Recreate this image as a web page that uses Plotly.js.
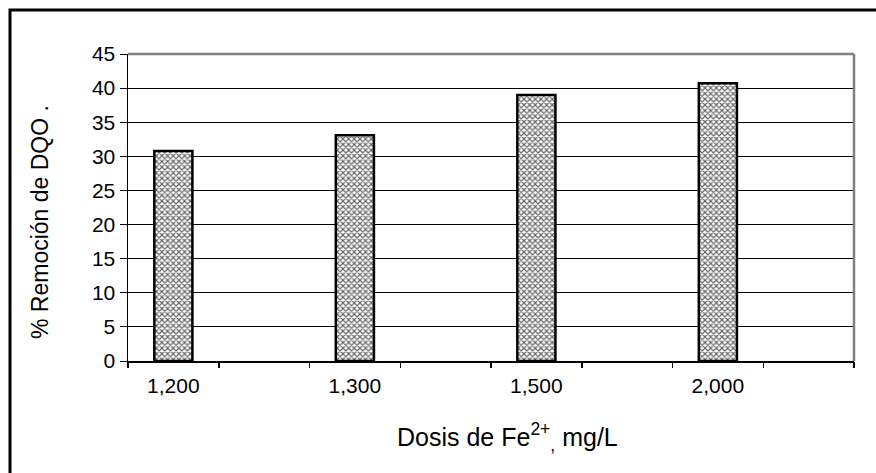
<!DOCTYPE html>
<html>
<head>
<meta charset="utf-8">
<script src="https://cdn.plot.ly/plotly-3.0.1.min.js"></script>
<style>html,body{margin:0;padding:0;background:#fff;}</style>
</head>
<body>
<div id="chart" style="width:876px;height:473px;"></div>
<script>
// Data
const categories = ["1,200", "1,300", "1,500", "2,000"];
const removal = [30.8, 33.1, 39.0, 40.7];
const yTicks = [0, 5, 10, 15, 20, 25, 30, 35, 40, 45];
const xTitle = "Dosis de Fe<sup>2+</sup><sub>,</sub> mg/L";
const yTitle = "% Remoción de DQO .";

// Layout constants
const W = 876, H = 473;
const L = 128, R = 22, T = 54, B = 112;
const pw = W - L - R, ph = H - T - B;
const slots = categories.length * 2; // each category followed by an empty slot
const xpos = categories.map((c, i) => 2 * i);
const bounds = Array.from({length: slots + 1}, (_, i) => i - 0.5);
const font = "Liberation Sans";

const px2x = p => (p - L) / pw;
const px2y = p => (H - B - p) / ph;

const trace = {
  type: "bar",
  x: xpos,
  y: removal,
  width: 0.42,
  marker: {
    color: "#ffffff",
    line: {color: "#000000", width: 2.5},
    pattern: {shape: "x", bgcolor: "#ffffff", fgcolor: "#666666", size: 4, solidity: 0.5, fillmode: "replace"}
  },
  hoverinfo: "skip",
  showlegend: false
};
const dummy = {type: "scatter", x: [], y: [], xaxis: "x2", yaxis: "y", showlegend: false};

const layout = {
  width: W, height: H,
  margin: {l: L, r: R, t: T, b: B, pad: 0},
  paper_bgcolor: "#ffffff",
  plot_bgcolor: "#ffffff",
  font: {family: font, size: 21, color: "#000"},
  showlegend: false,
  xaxis: {
    range: [-0.5, slots - 0.5],
    tickmode: "array", tickvals: xpos, ticktext: categories,
    ticks: "outside", ticklen: 5, tickcolor: "rgba(0,0,0,0)",
    showgrid: false, zeroline: false,
    showline: true, linecolor: "#000", linewidth: 1.5,
    tickfont: {family: font, size: 21, color: "#000"},
    fixedrange: true
  },
  xaxis2: {
    overlaying: "x", anchor: "y", side: "bottom",
    range: [-0.5, slots - 0.5],
    tickmode: "array", tickvals: bounds,
    ticks: "outside", ticklen: 6, tickwidth: 1.5, tickcolor: "#000",
    showticklabels: false, showgrid: false, zeroline: false, showline: false
  },
  yaxis: {
    range: [0, 45],
    tickmode: "array", tickvals: yTicks,
    ticks: "outside", ticklen: 7, tickwidth: 1, tickcolor: "#000",
    showgrid: true, gridcolor: "#000", gridwidth: 1,
    zeroline: false, showline: true, linecolor: "#000", linewidth: 1.5,
    tickfont: {family: font, size: 21, color: "#000"},
    fixedrange: true
  },
  shapes: [
    // plot area border (top & right) in gray
    {type: "line", xref: "paper", yref: "paper", x0: 0, x1: 1, y0: 1, y1: 1, line: {color: "#808080", width: 2.5}},
    {type: "line", xref: "paper", yref: "paper", x0: 1, x1: 1, y0: 0, y1: 1, line: {color: "#808080", width: 2.5}},
    // outer chart frame (cropped at right/bottom)
    {type: "rect", xref: "paper", yref: "paper",
     x0: px2x(10), x1: px2x(W + 20), y0: px2y(H + 20), y1: px2y(10),
     line: {color: "#000", width: 3}, fillcolor: "rgba(0,0,0,0)"}
  ],
  annotations: [
    {text: xTitle, xref: "paper", yref: "paper", x: px2x(507), y: px2y(437),
     xanchor: "center", yanchor: "middle", showarrow: false,
     font: {family: font, size: 25, color: "#000"}},
    {text: yTitle, xref: "paper", yref: "paper", x: px2x(40), y: px2y(222),
     xanchor: "center", yanchor: "middle", textangle: -90, showarrow: false,
     font: {family: font, size: 23, color: "#000"}}
  ]
};

Plotly.newPlot("chart", [trace, dummy], layout, {displayModeBar: false, staticPlot: true});
</script>
</body>
</html>
